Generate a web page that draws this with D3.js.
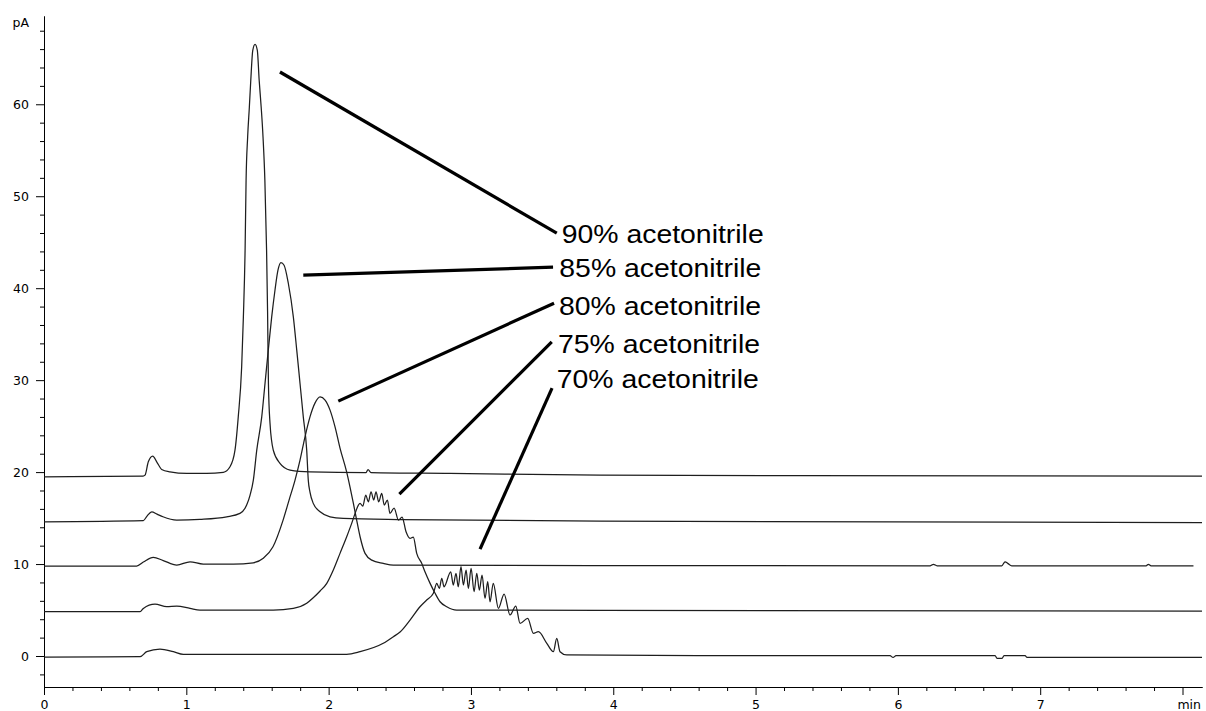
<!DOCTYPE html>
<html><head><meta charset="utf-8">
<script src="https://cdn.jsdelivr.net/npm/d3@7"></script>
<style>
html,body{margin:0;padding:0;background:#fff;}
svg{display:block;background:#fff;}
.axis path,.axis line{stroke:#000;stroke-width:1;}
</style></head><body>
<svg id="chart" width="1206" height="711"></svg>
<script>
// ---------- data (time in min, signal in pA) ----------
const xTickValues = [0,1,2,3,4,5,6,7,8];
const xTickLabels = ["0","1","2","3","4","5","6","7",""];
const yTickValues = [0,10,20,30,40,50,60];
const yTickLabels = ["0","10","20","30","40","50","60"];
const xUnit = "min";
const yUnit = "pA";
const seriesNames = ["90% acetonitrile","85% acetonitrile","80% acetonitrile","75% acetonitrile","70% acetonitrile"];

const trace90 = [[0,19.49],[0.696,19.57],[0.710,19.67],[0.733,21.12],[0.764,21.74],[0.792,21.12],[0.827,20.29],[0.885,20.03],[1.003,19.86],[1.143,19.86],[1.260,19.97],[1.307,20.58],[1.342,22.39],[1.365,26.01],[1.389,31.45],[1.401,36.88],[1.413,44.13],[1.420,51.74],[1.431,56.45],[1.443,59.71],[1.453,62.61],[1.467,65.87],[1.483,66.52],[1.499,65.87],[1.512,62.61],[1.526,59.71],[1.539,56.45],[1.552,51.74],[1.564,44.13],[1.571,37.50],[1.577,29.64],[1.588,25.33],[1.611,22.39],[1.658,20.95],[1.729,20.22],[1.869,20.03],[2.263,19.95],[2.277,20.27],[2.298,19.95],[2.853,19.86],[3.907,19.67],[5.313,19.62],[8.137,19.57]];

const trace85 = [[0,14.60],[0.698,14.73],[0.724,15.22],[0.757,15.68],[0.794,15.43],[0.836,15.14],[0.933,14.78],[1.096,14.86],[1.284,15.14],[1.377,15.51],[1.424,16.41],[1.448,17.50],[1.471,19.13],[1.495,22.39],[1.530,26.01],[1.553,29.64],[1.576,33.26],[1.600,36.88],[1.623,39.78],[1.644,41.96],[1.665,42.79],[1.687,42.50],[1.717,40.51],[1.752,36.88],[1.776,33.26],[1.799,29.64],[1.822,26.01],[1.846,22.39],[1.857,19.13],[1.869,17.83],[1.892,16.60],[1.940,15.68],[2.010,15.14],[2.103,14.97],[2.502,14.84],[3.907,14.67],[8.137,14.51]];

const trace80 = [[0,9.78],[0.651,9.78],[0.698,10.22],[0.768,10.73],[0.838,10.38],[0.933,9.89],[1.026,10.25],[1.119,10.00],[1.330,10.00],[1.471,10.14],[1.541,10.62],[1.609,11.88],[1.680,14.78],[1.722,16.96],[1.764,19.13],[1.799,21.30],[1.834,23.84],[1.869,26.01],[1.904,27.50],[1.940,28.18],[1.975,27.83],[2.010,26.74],[2.045,24.92],[2.080,22.61],[2.127,20.00],[2.150,18.40],[2.174,16.60],[2.197,14.78],[2.221,12.97],[2.256,11.16],[2.303,10.43],[2.384,10.08],[2.455,9.89],[3.907,9.84],[6.226,9.81],[6.250,9.97],[6.275,9.81],[6.730,9.81],[6.753,10.25],[6.774,10.05],[6.800,9.81],[7.744,9.81],[7.760,9.97],[7.779,9.81],[8.077,9.81]];

const trace75 = [[0,4.82],[0.675,4.82],[0.698,5.18],[0.780,5.65],[0.862,5.36],[0.933,5.43],[1.026,5.18],[1.096,5.00],[1.611,5.00],[1.752,5.18],[1.846,5.73],[1.890,6.30],[1.940,7.07],[1.987,7.90],[2.033,9.35],[2.080,11.16],[2.127,12.97],[2.162,14.42],[2.186,15.51],[2.209,16.41],[2.221,16.60],[2.240,16.30],[2.261,17.50],[2.279,16.77],[2.298,17.86],[2.317,16.96],[2.333,17.86],[2.352,16.77],[2.373,17.68],[2.391,16.41],[2.413,16.96],[2.431,15.51],[2.460,16.09],[2.491,14.78],[2.516,15.11],[2.544,13.51],[2.572,12.79],[2.595,12.93],[2.619,11.16],[2.654,10.08],[2.677,9.16],[2.713,7.90],[2.748,6.82],[2.783,5.90],[2.830,5.36],[2.900,5.00],[3.907,4.95],[8.137,4.89]];

const trace70 = [[0,-0.11],[0.675,-0.08],[0.722,0.47],[0.815,0.76],[0.909,0.47],[0.979,0.18],[2.127,0.18],[2.221,0.47],[2.384,1.38],[2.455,2.10],[2.502,2.61],[2.572,3.91],[2.642,5.36],[2.689,6.09],[2.736,6.82],[2.760,7.90],[2.778,7.36],[2.795,8.45],[2.811,7.53],[2.858,9.16],[2.876,7.72],[2.895,8.99],[2.911,7.53],[2.930,9.71],[2.947,7.72],[2.966,9.35],[2.982,7.36],[3.001,9.53],[3.022,6.99],[3.041,8.99],[3.059,7.17],[3.078,8.80],[3.099,6.27],[3.118,8.08],[3.134,5.90],[3.157,7.90],[3.193,5.18],[3.233,6.74],[3.275,4.46],[3.315,5.43],[3.345,3.55],[3.399,4.10],[3.439,2.47],[3.474,2.64],[3.533,1.38],[3.579,0.47],[3.603,1.92],[3.626,0.47],[3.673,0.11],[4.610,0.03],[5.945,0.03],[5.966,-0.16],[5.987,0.03],[6.683,0.03],[6.697,-0.25],[6.732,-0.25],[6.746,0.03],[6.894,0.03],[6.908,-0.16],[8.137,-0.16]];

const traces = [trace90, trace85, trace80, trace75, trace70];

// annotation pointer lines: start near the peak, end at the label
const pointerStart = [[1.658,63.51],[1.822,41.41],[2.068,27.72],[2.497,17.61],[3.064,11.63]];
const pointerEnd   = [[3.603,45.98],[3.577,42.28],[3.584,38.37],[3.568,34.16],[3.570,29.13]];
const labelAnchor  = [[3.638,44.89],[3.621,41.20],[3.619,37.07],[3.612,32.93],[3.603,29.13]];

// ---------- drawing ----------
const svg = d3.select("#chart");
svg.append("rect").attr("width",1206).attr("height",711).attr("fill","#fff");

const x = d3.scaleLinear().domain([0, 8.137]).range([44, 1202]);
const y = d3.scaleLinear().domain([-3.37, 69.6]).range([687, 16]);

const xMinor = d3.range(0, 8.01, 0.2).filter(v => Math.abs(v - Math.round(v)) > 1e-6);
const yMinor = d3.range(-2, 69, 2).filter(v => v % 10 !== 0);

function styleText(g){
  g.selectAll(".tick text").attr("font-family","DejaVu Sans, sans-serif").attr("font-size",12.5).attr("fill","#000");
}

// y axis
svg.append("g").attr("class","axis").attr("transform","translate(44,0)")
  .call(d3.axisLeft(y).tickValues(yMinor).tickSize(4).tickSizeOuter(0).tickFormat(""));
svg.append("g").attr("class","axis").attr("transform","translate(44,0)")
  .call(d3.axisLeft(y).tickValues(yTickValues).tickSize(8).tickSizeOuter(0).tickPadding(7)
        .tickFormat((d,i) => yTickLabels[i]))
  .call(styleText);

// x axis
svg.append("g").attr("class","axis").attr("transform","translate(0,687)")
  .call(d3.axisBottom(x).tickValues(xMinor).tickSize(4).tickSizeOuter(0).tickFormat(""));
svg.append("g").attr("class","axis").attr("transform","translate(0,687)")
  .call(d3.axisBottom(x).tickValues(xTickValues).tickSize(8).tickSizeOuter(0).tickPadding(5)
        .tickFormat((d,i) => xTickLabels[i]))
  .call(styleText);

// unit labels
svg.append("text").attr("x", 12.5).attr("y", 27)
  .attr("font-family","DejaVu Sans, sans-serif").attr("font-size",12.5).attr("fill","#000")
  .text(yUnit);
svg.append("text").attr("x", 1201).attr("y", 709).attr("text-anchor","end")
  .attr("font-family","DejaVu Sans, sans-serif").attr("font-size",12.5).attr("fill","#000")
  .text(xUnit);

// traces
const line = d3.line().x(d => x(d[0])).y(d => y(d[1])).curve(d3.curveMonotoneX);
svg.append("g").selectAll("path").data(traces).join("path")
  .attr("d", line).attr("fill","none").attr("stroke","#1e1e1e").attr("stroke-width",1.25)
  .attr("stroke-linejoin","round");

// pointer lines
svg.append("g").selectAll("line").data(pointerStart).join("line")
  .attr("x1", d => x(d[0])).attr("y1", d => y(d[1]))
  .attr("x2", (d,i) => x(pointerEnd[i][0])).attr("y2", (d,i) => y(pointerEnd[i][1]))
  .attr("stroke","#000").attr("stroke-width",3.2).attr("stroke-linecap","butt");

// labels
svg.append("g").selectAll("text").data(seriesNames).join("text")
  .attr("x", (d,i) => x(labelAnchor[i][0])).attr("y", (d,i) => y(labelAnchor[i][1]))
  .attr("font-family","Liberation Sans, Arial, sans-serif").attr("font-size",26.5)
  .attr("textLength",202).attr("lengthAdjust","spacingAndGlyphs")
  .attr("fill","#000").text(d => d);
</script></body></html>
